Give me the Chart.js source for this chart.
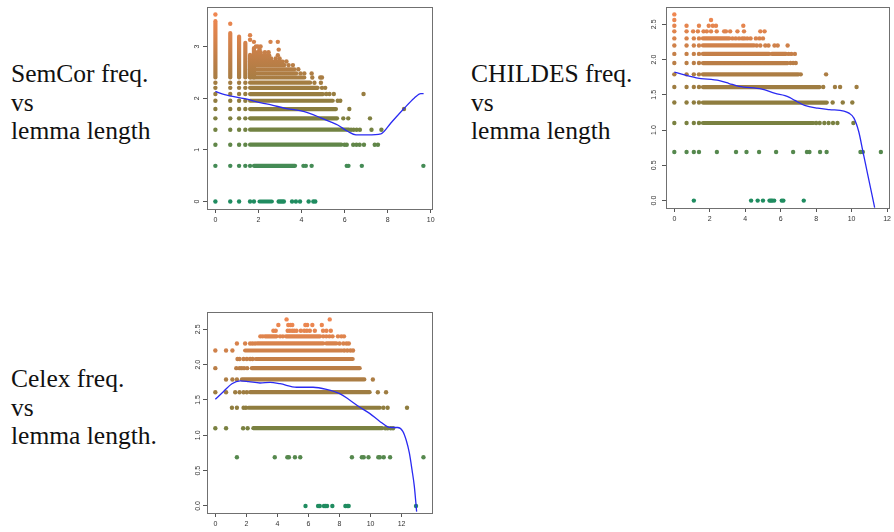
<!DOCTYPE html>
<html>
<head>
<meta charset="utf-8">
<script src="https://cdn.jsdelivr.net/npm/chart.js@4.4.0/dist/chart.umd.min.js"></script>
<style>
  body { margin: 0; background: #fff; width: 894px; height: 532px; position: relative; overflow: hidden; }
  .lab { position: absolute; font-family: "Liberation Serif", serif; font-size: 25.5px; line-height: 28.5px; color: #111; white-space: nowrap; }
  canvas { position: absolute; }
</style>
</head>
<body>
<div class="lab" style="left:11px;top:60px">SemCor freq.<br>vs<br>lemma length</div>
<div class="lab" style="left:471px;top:60px">CHILDES freq.<br>vs<br>lemma length</div>
<div class="lab" style="left:11px;top:365px">Celex freq.<br>vs<br>lemma length.</div>

<canvas id="semcor" width="262" height="232" style="left:180px;top:0"></canvas>
<canvas id="childes" width="254" height="232" style="left:640px;top:0"></canvas>
<canvas id="celex" width="262" height="227" style="left:180px;top:305px"></canvas>

<script>
// ---- SemCor ----
const semcorXTicks = [0, 2, 4, 6, 8, 10];
const semcorYTicks = [0, 1, 2, 3];
const semcorYLabels = ['0', '1', '2', '3'];
// dense horizontal bands of dots (one entry per band)
const semcorRunY    = [0, 0.69, 1.1, 1.39, 1.61, 1.79, 1.95, 2.08, 2.2, 2.3, 2.4, 2.48, 2.56, 2.64, 2.71, 2.77, 2.83];
const semcorRunFrom = [2.05, 1.79, 1.61, 1.61, 1.61, 1.61, 1.61, 1.61, 1.61, 1.61, 1.61, 1.61, 1.61, 1.61, 1.61, 1.61, 1.75];
const semcorRunTo   = [2.62, 3.7, 5.85, 6.2, 5.65, 5.6, 5.45, 5.0, 4.75, 4.4, 4.13, 3.75, 3.67, 3.21, 3.13, 2.59, 2.5];
// dense vertical columns at the left
const semcorColX    = [0, 0.69, 1.1, 1.39, 1.61, 1.79];
const semcorColFrom = [2.4, 2.4, 2.4, 2.4, 2.4, 2.4];
const semcorColTo   = [3.49, 3.26, 3.19, 3.07, 2.84, 2.97];
// single dots, by level
const semcorDotY = [0, 0.69, 1.1, 1.39, 1.61, 1.79, 1.95, 2.08, 2.2, 2.3, 2.4, 2.48, 2.56, 2.64, 2.71, 2.77, 2.83, 2.89, 2.94, 3.0, 3.09, 3.13, 3.22, 3.44, 3.62];
const semcorDotX = [
  [0, 0.69, 1.1, 1.61, 1.79, 2.94, 3.02, 3.1, 3.18, 3.56, 3.74, 3.93, 4.33, 4.55, 4.64],
  [0, 0.69, 1.1, 1.39, 1.61, 4.09, 4.2, 4.47, 6.1, 6.18, 6.8, 9.66],
  [0, 0.69, 1.1, 1.39, 6.0, 6.1, 6.4, 6.55, 6.7, 6.9, 7.4, 7.55],
  [0, 0.69, 1.1, 1.39, 6.3, 6.42, 6.56, 6.71, 7.25, 7.71],
  [0, 0.69, 1.1, 1.39, 5.94, 6.17, 7.18],
  [0, 0.69, 1.1, 1.39, 6.22, 8.76],
  [0, 0.69, 1.1, 1.39, 5.68, 5.8],
  [0, 0.69, 1.1, 1.39, 5.15, 5.3, 5.5, 6.88],
  [0, 0.69, 1.1, 1.39, 4.95, 5.1],
  [0, 0.69, 1.1, 1.39, 4.6, 4.9],
  [4.5, 4.87, 4.95],
  [3.95, 4.13, 4.47],
  [3.85],
  [3.4, 3.6],
  [3.3],
  [2.8, 2.98],
  [2.9],
  [1.95, 2.1, 2.3, 2.47],
  [2.05, 2.94],
  [1.88, 1.97, 2.1],
  [1.79, 2.56, 2.9],
  [1.61],
  [1.61],
  [0.69],
  [0]
];
const semcorCurveX = [0, 0.43, 1.36, 2.13, 2.59, 3.3, 4.13, 4.9, 5.3, 5.68, 6.14, 6.53, 7.07, 7.69, 8.15, 8.76, 9.23, 9.54, 9.67];
const semcorCurveY = [2.13, 2.07, 1.99, 1.91, 1.87, 1.80, 1.74, 1.62, 1.55, 1.48, 1.36, 1.29, 1.29, 1.31, 1.52, 1.80, 2.0, 2.09, 2.09];

// ---- CHILDES ----
const childesXTicks = [0, 2, 4, 6, 8, 10, 12];
const childesYTicks = [0, 0.5, 1, 1.5, 2, 2.5];
const childesYLabels = ['0.0', '0.5', '1.0', '1.5', '2.0', '2.5'];
const childesRunY    = [1.1, 1.39, 1.61, 1.79, 1.95, 2.08, 2.08, 2.2, 2.3];
const childesRunFrom = [1.61, 1.61, 1.61, 1.61, 1.61, 1.61, 5.5, 1.61, 1.61];
const childesRunTo   = [7.85, 8.6, 8.2, 7.0, 6.4, 5.35, 6.3, 4.5, 3.1];
const childesDotY = [0, 0.69, 1.1, 1.39, 1.61, 1.79, 1.95, 2.08, 2.2, 2.3, 2.4, 2.48, 2.56, 2.64];
const childesDotX = [
  [1.1, 4.33, 4.7, 5.0, 5.37, 5.45, 5.52, 5.63, 6.06, 6.15, 7.3],
  [0, 0.69, 1.1, 1.39, 2.4, 3.48, 4.07, 4.78, 5.74, 6.7, 7.48, 7.62, 8.22, 8.59, 10.5, 10.63, 11.65],
  [0, 0.69, 1.1, 1.39, 8.0, 8.2, 8.46, 8.7, 8.95, 9.2, 10.1],
  [0, 0.69, 1.1, 1.39, 8.93, 9.5, 10.04],
  [0, 0.69, 1.1, 1.39, 8.4, 9.06, 9.35, 10.28],
  [0, 0.69, 1.1, 1.39, 7.13, 8.56],
  [0, 0.69, 1.1, 1.39, 6.55, 6.7, 6.85],
  [0, 0.69, 1.1, 1.39, 6.45, 6.6, 6.8],
  [0, 0.69, 1.1, 1.39, 4.65, 4.85, 5.13, 5.31, 5.65, 5.83, 6.39],
  [0, 0.69, 1.1, 1.39, 3.28, 3.46, 3.65, 3.83, 3.95, 4.11, 4.3, 4.6, 4.8, 5.0],
  [0, 0.69, 1.06, 1.33, 1.65, 1.83, 2.07, 2.39, 2.81, 2.91, 3.15, 3.56, 3.93, 4.85, 5.09],
  [0, 0.69, 1.39, 1.94, 2.17, 2.35, 3.89],
  [0, 2.07],
  [0]
];
const childesCurveX = [0, 1.24, 2.54, 3.09, 3.65, 4.94, 5.69, 6.24, 6.52, 6.8, 7.35, 8.09, 8.74, 9.57, 9.85, 10.13, 10.4, 10.65, 10.9, 11.15, 11.3];
const childesCurveY = [1.82, 1.74, 1.70, 1.66, 1.62, 1.58, 1.52, 1.49, 1.46, 1.42, 1.35, 1.31, 1.29, 1.27, 1.24, 1.17, 0.98, 0.68, 0.38, 0.08, -0.1];

// ---- Celex ----
const celexXTicks = [0, 2, 4, 6, 8, 10, 12];
const celexYTicks = [0, 0.5, 1, 1.5, 2, 2.5];
const celexYLabels = ['0.0', '0.5', '1.0', '1.5', '2.0', '2.5'];
const celexRunY    = [1.1, 1.39, 1.61, 1.79, 1.95, 2.08, 2.2, 2.3, 2.3, 2.4, 2.4];
const celexRunFrom = [2.45, 2.14, 2.24, 1.71, 2.35, 2.6, 1.92, 2.7, 7.15, 3.2, 4.55];
const celexRunTo   = [10.75, 10.6, 9.94, 9.6, 9.3, 8.85, 8.15, 6.95, 7.8, 3.95, 6.75];
const celexDotY = [0, 0.69, 1.1, 1.39, 1.61, 1.79, 1.95, 2.08, 2.2, 2.3, 2.4, 2.48, 2.56, 2.64];
const celexDotX = [
  [5.81, 6.62, 6.73, 7.0, 7.1, 7.2, 7.54, 8.38, 8.5, 8.59, 12.93],
  [1.39, 3.83, 4.64, 4.74, 5.13, 5.47, 8.8, 9.44, 9.56, 9.87, 10.5, 10.6, 10.85, 11.26, 13.41],
  [0, 0.69, 1.79, 2.08, 10.95, 11.1, 11.3, 11.45],
  [1.07, 1.39, 1.82, 1.97, 10.83, 11.1, 12.35],
  [0, 0.69, 1.28, 1.56, 1.82, 2.03, 10.47, 11.0],
  [0.69, 1.1, 1.39, 10.15],
  [0, 1.35, 1.56, 1.7, 1.85, 2.05],
  [1.43, 1.56, 1.82, 2.03, 2.24, 2.4],
  [0, 0.69, 1.1, 8.3, 8.5, 8.7, 8.87],
  [1.39, 1.92, 2.24, 2.4, 2.56, 8.0, 8.25, 8.45, 8.6],
  [2.9, 3.05, 4.17, 4.35, 6.95, 7.15, 7.35, 7.55, 7.9, 8.12, 8.29],
  [3.74, 3.89, 4.66, 4.8, 4.95, 5.08, 5.23, 5.51, 5.73, 5.9, 6.09, 6.41, 6.94, 7.16, 7.44],
  [4.06, 4.7, 4.85, 4.96, 5.8, 5.92, 6.25, 6.86],
  [4.59, 7.37]
];
const celexCurveX = [0, 0.53, 1.07, 1.6, 2.14, 2.88, 3.53, 4.17, 5.24, 6.3, 7.16, 8.01, 8.65, 9.29, 9.94, 10.58, 11.11, 11.43, 11.75, 12.07, 12.3, 12.5, 12.68, 12.82, 12.97];
const celexCurveY = [1.51, 1.62, 1.73, 1.77, 1.76, 1.74, 1.75, 1.73, 1.68, 1.68, 1.65, 1.59, 1.50, 1.40, 1.31, 1.20, 1.12, 1.11, 1.11, 1.06, 0.93, 0.75, 0.5, 0.28, -0.08];

// green (low) -> olive -> orange (high)
const shadeStops = [[0, '#1f8c60'], [0.2, '#468b55'], [0.35, '#6c8443'], [0.5, '#8a7d3e'],
                    [0.62, '#a07d42'], [0.75, '#bc7e47'], [0.88, '#da834c'], [1, '#f08751']];

function shade(chart, top) {
  const y = chart.scales.y;
  const g = chart.ctx.createLinearGradient(0, y.getPixelForValue(0), 0, y.getPixelForValue(top));
  shadeStops.forEach(s => g.addColorStop(s[0], s[1]));
  return g;
}

function frame(d) {
  return {
    id: 'frame',
    afterDatasetsDraw(chart) {
      const { ctx, chartArea: a, scales: { y } } = chart;
      ctx.save();
      ctx.strokeStyle = '#707070';
      ctx.lineWidth = 1;
      ctx.strokeRect(Math.round(a.left) + 0.5, Math.round(a.top) + 0.5,
                     Math.round(a.right - a.left), Math.round(a.bottom - a.top));
      ctx.fillStyle = '#333';
      ctx.font = '7px "Liberation Sans"';
      ctx.textAlign = 'center';
      ctx.textBaseline = 'bottom';
      d.yTicks.forEach((v, i) => {
        ctx.save();
        ctx.translate(a.left - d.gap, y.getPixelForValue(v));
        ctx.rotate(-Math.PI / 2);
        ctx.fillText(d.yLabels[i], 0, 0);
        ctx.restore();
      });
      ctx.restore();
    }
  };
}

function build(id, d) {
  const paint = c => {
    const ch = c.chart;
    if (!ch.chartArea) return '#888';
    return ch.$shade || (ch.$shade = shade(ch, d.top));
  };
  const band = pts => ({ data: pts, showLine: true, borderWidth: 4.2, borderCapStyle: 'round',
                         borderColor: paint, pointRadius: 0 });
  const sets = [];
  d.runY.forEach((y, i) => sets.push(band([{ x: d.runFrom[i], y }, { x: d.runTo[i], y }])));
  (d.colX || []).forEach((x, i) => sets.push(band([{ x, y: d.colFrom[i] }, { x, y: d.colTo[i] }])));
  const pts = [];
  d.dotY.forEach((y, i) => d.dotX[i].forEach(x => pts.push({ x, y })));
  sets.push({ data: pts, pointRadius: 2.2, backgroundColor: paint, borderWidth: 0 });
  sets.push({ data: d.curveX.map((x, i) => ({ x, y: d.curveY[i] })), showLine: true,
              borderColor: '#2a2af2', borderWidth: 1.3, pointRadius: 0,
              cubicInterpolationMode: 'monotone', order: -1 });

  const tickGrid = { drawOnChartArea: false, drawTicks: true, tickLength: 4, color: '#555', lineWidth: 1 };
  new Chart(document.getElementById(id), {
    type: 'scatter',
    data: { datasets: sets },
    options: {
      responsive: false,
      animation: false,
      devicePixelRatio: 1,
      layout: { padding: { top: 7, right: d.padR, left: 0, bottom: 0 } },
      plugins: { legend: { display: false }, tooltip: { enabled: false } },
      scales: {
        x: {
          type: 'linear', min: d.xMin, max: d.xMax,
          afterBuildTicks: s => { s.ticks = d.xTicks.map(v => ({ value: v })); },
          afterFit: s => { s.height = d.xH; },
          ticks: { autoSkip: false, maxRotation: 0, padding: 3, color: '#333',
                   font: { family: 'Liberation Sans', size: 7 }, callback: v => String(v) },
          grid: tickGrid,
          border: { display: false }
        },
        y: {
          type: 'linear', min: d.yMin, max: d.yMax,
          afterBuildTicks: s => { s.ticks = d.yTicks.map(v => ({ value: v })); },
          afterFit: s => { s.width = d.yW; },
          ticks: { display: false },
          grid: tickGrid,
          border: { display: false }
        }
      }
    },
    plugins: [frame(d)]
  });
}

build('semcor', {
  xMin: -0.39, xMax: 10.06, yMin: -0.145, yMax: 3.765, top: 3.62,
  xTicks: semcorXTicks, yTicks: semcorYTicks, yLabels: semcorYLabels,
  runY: semcorRunY, runFrom: semcorRunFrom, runTo: semcorRunTo,
  colX: semcorColX, colFrom: semcorColFrom, colTo: semcorColTo,
  dotY: semcorDotY, dotX: semcorDotX, curveX: semcorCurveX, curveY: semcorCurveY,
  yW: 27, xH: 23, padR: 10, gap: 6
});

build('childes', {
  xMin: -0.47, xMax: 12.1, yMin: -0.105, yMax: 2.745, top: 2.64,
  xTicks: childesXTicks, yTicks: childesYTicks, yLabels: childesYLabels,
  runY: childesRunY, runFrom: childesRunFrom, runTo: childesRunTo,
  dotY: childesDotY, dotX: childesDotX, curveX: childesCurveX, curveY: childesCurveY,
  yW: 26, xH: 24, padR: 2, gap: 8
});

build('celex', {
  xMin: -0.537, xMax: 13.96, yMin: -0.1, yMax: 2.745, top: 2.64,
  xTicks: celexXTicks, yTicks: celexYTicks, yLabels: celexYLabels,
  runY: celexRunY, runFrom: celexRunFrom, runTo: celexRunTo,
  dotY: celexDotY, dotX: celexDotX, curveX: celexCurveX, curveY: celexCurveY,
  yW: 27, xH: 19, padR: 10, gap: 5
});
</script>
</body>
</html>
